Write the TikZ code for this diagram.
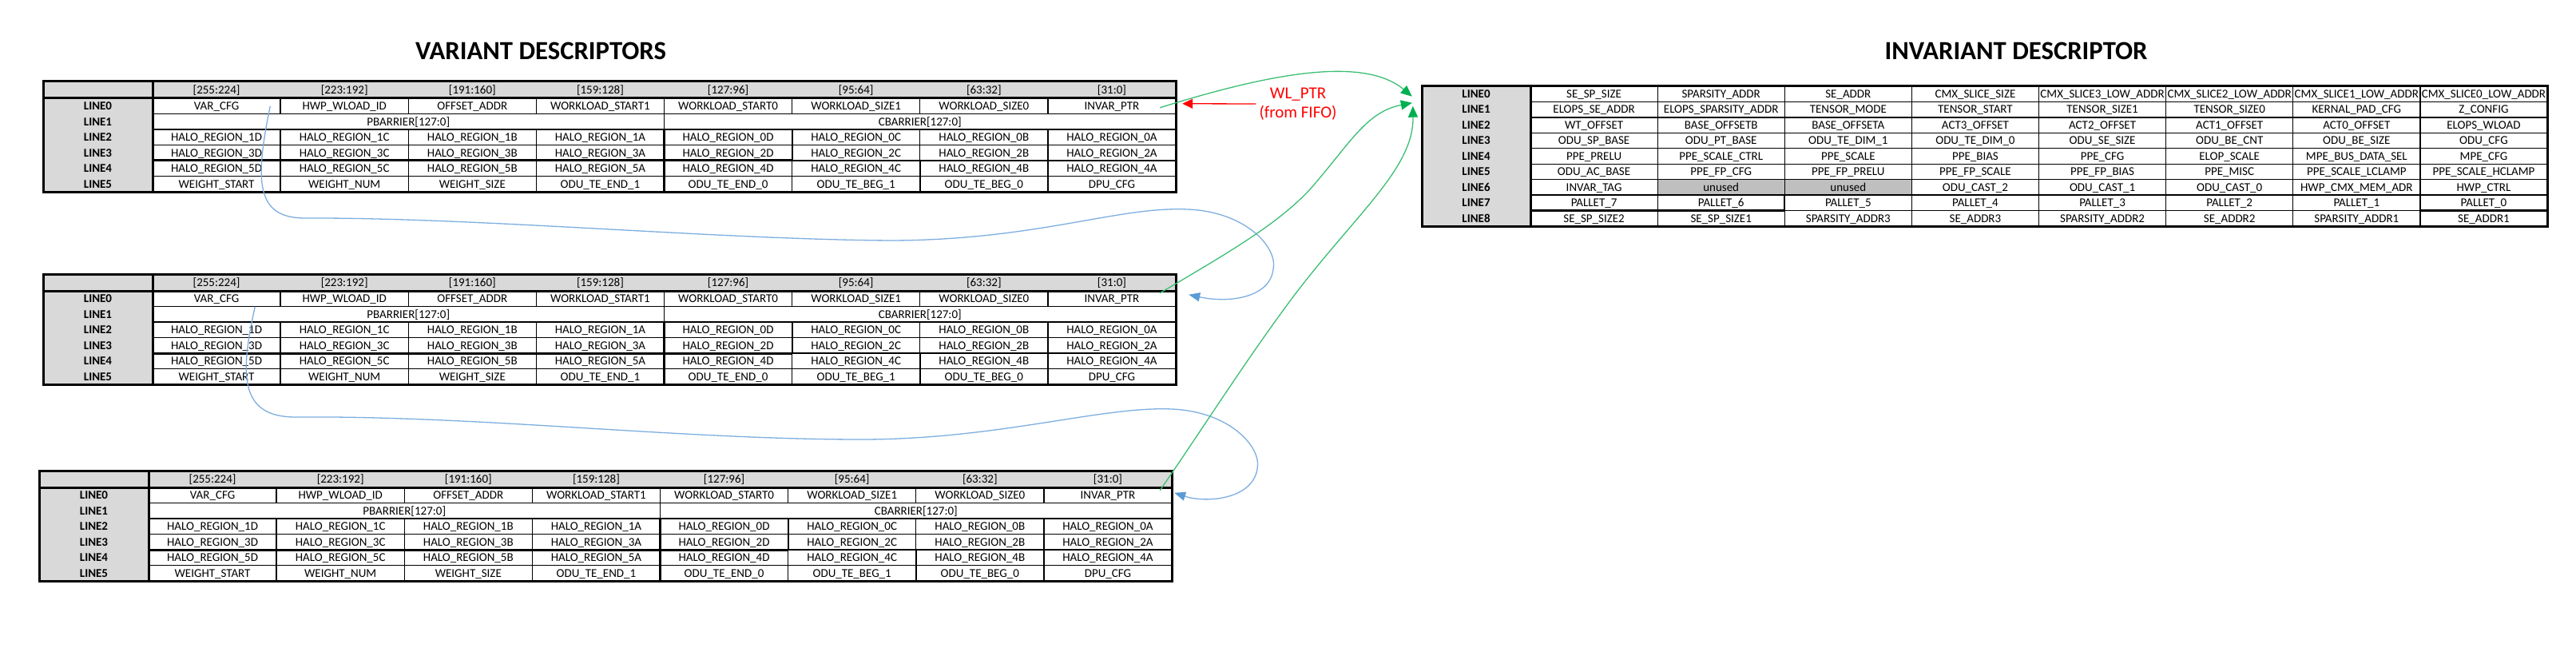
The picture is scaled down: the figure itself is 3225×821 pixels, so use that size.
\documentclass[tikz,border=0pt]{standalone}
\usepackage{fontspec}
\setmainfont{Carlito}
\usetikzlibrary{arrows.meta,calc}
\definecolor{hdrgray}{HTML}{D9D9D9}
\definecolor{unusedgray}{HTML}{BFBFBF}
\definecolor{xlgreen}{HTML}{00B050}
\definecolor{xlgreenline}{HTML}{3CBE74}
\definecolor{xlblue}{HTML}{5B9BD5}
\definecolor{xlblueline}{HTML}{7DAEE0}
\definecolor{xlred}{HTML}{FF0000}
\tikzset{
  thinb/.style={line width=1.3pt, draw=black},
  medb/.style={line width=2.2pt, draw=black},
  thickb/.style={line width=3pt, draw=black},
  cell/.style={inner sep=0pt, minimum height=19.5pt, text height=9.66pt, text depth=0pt,
    font=\fontsize{15}{15}\selectfont, anchor=center},
  lab/.style={cell, font=\fontsize{15}{15}\selectfont\bfseries},
  titletext/.style={font=\fontsize{32.7}{36}\selectfont\bfseries, anchor=base, inner sep=0pt},
  wltext/.style={font=\fontsize{21}{23.5}\selectfont, text=xlred, align=center, inner sep=4pt},
  bluelink/.style={draw=xlblueline, line width=1.3pt, -{Triangle[length=14pt,width=11pt,color=xlblue]}},
  greenlink/.style={draw=xlgreenline, line width=1.3pt, -{Triangle[length=14pt,width=12pt,color=xlgreen]}},
  redlink/.style={draw=xlred, line width=1.3pt, -{Triangle[length=13pt,width=12pt]}},
}
\newcommand\vartable[3]{%
\begin{scope}[shift={(#2,#3)}]
\fill[hdrgray] (0,0) rectangle (1418,21);
\fill[hdrgray] (0,21) rectangle (137,138);
\foreach \r in {1,...,5} {\draw[thinb] (137,21+19.5*\r) -- (1418,21+19.5*\r);}
\foreach \c in {1,...,7} {\draw[thinb] (137+160.125*\c,21) -- (137+160.125*\c,40.5);
  \draw[thinb] (137+160.125*\c,60) -- (137+160.125*\c,138);}
\draw[thinb] (777.5,40.5) -- (777.5,60);
\draw[medb] (777.5,60) -- (777.5,138);
\draw[medb] (937.625,60) -- (937.625,99);
\draw[medb] (1097.75,99) -- (1097.75,138);
\draw[thickb] (137,99) -- (937.625,99);
\draw[thickb] (0,21) -- (1418,21);
\draw[thickb] (137,0) -- (137,138);
\draw[thickb] (0,0) rectangle (1418,138);
\foreach \txt [count=\c] in {{[255:224]},{[223:192]},{[191:160]},{[159:128]},{[127:96]},{[95:64]},{[63:32]},{[31:0]}}
  {\node[cell,minimum width=160.125pt,minimum height=21pt] (#1-h-\c) at (56.9375+160.125*\c,10.5) {\txt};}
\foreach \r in {0,...,5} {\node[lab,minimum width=137pt] (#1-\r-0) at (68.5,30.75+19.5*\r) {LINE\r};}
\foreach \txt [count=\c] in {VAR\_CFG,HWP\_WLOAD\_ID,OFFSET\_ADDR,WORKLOAD\_START1,WORKLOAD\_START0,WORKLOAD\_SIZE1,WORKLOAD\_SIZE0,INVAR\_PTR}
  {\node[cell,minimum width=160.125pt] (#1-0-\c) at (56.9375+160.125*\c,30.75) {\txt};}
\node[cell,minimum width=640.5pt] (#1-1-1) at (457.25,50.25) {PBARRIER[127:0]};
\node[cell,minimum width=640.5pt] (#1-1-2) at (1097.75,50.25) {CBARRIER[127:0]};
\foreach \txt [count=\c] in {1D,1C,1B,1A,0D,0C,0B,0A}
  {\node[cell,minimum width=160.125pt] (#1-2-\c) at (56.9375+160.125*\c,69.75) {HALO\_REGION\_\txt};}
\foreach \txt [count=\c] in {3D,3C,3B,3A,2D,2C,2B,2A}
  {\node[cell,minimum width=160.125pt] (#1-3-\c) at (56.9375+160.125*\c,89.25) {HALO\_REGION\_\txt};}
\foreach \txt [count=\c] in {5D,5C,5B,5A,4D,4C,4B,4A}
  {\node[cell,minimum width=160.125pt] (#1-4-\c) at (56.9375+160.125*\c,108.75) {HALO\_REGION\_\txt};}
\foreach \txt [count=\c] in {WEIGHT\_START,WEIGHT\_NUM,WEIGHT\_SIZE,ODU\_TE\_END\_1,ODU\_TE\_END\_0,ODU\_TE\_BEG\_1,ODU\_TE\_BEG\_0,DPU\_CFG}
  {\node[cell,minimum width=160.125pt] (#1-5-\c) at (56.9375+160.125*\c,128.25) {\txt};}
\end{scope}}
\begin{document}
\begin{tikzpicture}[x=1pt,y=-1pt]
\useasboundingbox (0,0) rectangle (3225,821);
\fill[white] (0,0) rectangle (3225,821);
% titles
\node[titletext] (vtitle) at (677,75) {VARIANT DESCRIPTORS};
\node[titletext] (ititle) at (2524,75) {INVARIANT DESCRIPTOR};
% variant tables
\vartable{v1}{54}{102}
\vartable{v2}{54}{343}
\vartable{v3}{49}{589}
% invariant table
\begin{scope}[shift={(1780,108)}]
\fill[hdrgray] (0,0) rectangle (136,175);
\fill[unusedgray] (295.125,116.64) rectangle (613.375,136.08);
\foreach \r in {1,...,8} {\draw[thinb] (136,19.44*\r) -- (1409,19.44*\r);}
\foreach \c in {1,...,7} {\draw[thinb] (136+159.125*\c,0) -- (136+159.125*\c,175);}
\draw[medb] (136,136.08) -- (454.25,136.08);
\draw[medb] (136,155.52) -- (454.25,155.52);
\draw[medb] (454.25,136.08) -- (454.25,155.52);
\draw[medb] (1249.875,155.52) -- (1409,155.52);
\draw[medb] (1249.875,155.52) -- (1249.875,175);
\draw[thickb] (136,0) -- (136,175);
\draw[thickb] (0,0) rectangle (1409,175);
\foreach \r in {0,...,8} {\node[lab,minimum width=136pt,minimum height=19.44pt] (i-\r-0) at (68,9.72+19.44*\r) {LINE\r};}
\foreach \row [count=\r from 0] in {
  {SE\_SP\_SIZE,SPARSITY\_ADDR,SE\_ADDR,CMX\_SLICE\_SIZE,CMX\_SLICE3\_LOW\_ADDR,CMX\_SLICE2\_LOW\_ADDR,CMX\_SLICE1\_LOW\_ADDR,CMX\_SLICE0\_LOW\_ADDR},
  {ELOPS\_SE\_ADDR,ELOPS\_SPARSITY\_ADDR,TENSOR\_MODE,TENSOR\_START,TENSOR\_SIZE1,TENSOR\_SIZE0,KERNAL\_PAD\_CFG,Z\_CONFIG},
  {WT\_OFFSET,BASE\_OFFSETB,BASE\_OFFSETA,ACT3\_OFFSET,ACT2\_OFFSET,ACT1\_OFFSET,ACT0\_OFFSET,ELOPS\_WLOAD},
  {ODU\_SP\_BASE,ODU\_PT\_BASE,ODU\_TE\_DIM\_1,ODU\_TE\_DIM\_0,ODU\_SE\_SIZE,ODU\_BE\_CNT,ODU\_BE\_SIZE,ODU\_CFG},
  {PPE\_PRELU,PPE\_SCALE\_CTRL,PPE\_SCALE,PPE\_BIAS,PPE\_CFG,ELOP\_SCALE,MPE\_BUS\_DATA\_SEL,MPE\_CFG},
  {ODU\_AC\_BASE,PPE\_FP\_CFG,PPE\_FP\_PRELU,PPE\_FP\_SCALE,PPE\_FP\_BIAS,PPE\_MISC,PPE\_SCALE\_LCLAMP,PPE\_SCALE\_HCLAMP},
  {INVAR\_TAG,unused,unused,ODU\_CAST\_2,ODU\_CAST\_1,ODU\_CAST\_0,HWP\_CMX\_MEM\_ADR,HWP\_CTRL},
  {PALLET\_7,PALLET\_6,PALLET\_5,PALLET\_4,PALLET\_3,PALLET\_2,PALLET\_1,PALLET\_0},
  {SE\_SP\_SIZE2,SE\_SP\_SIZE1,SPARSITY\_ADDR3,SE\_ADDR3,SPARSITY\_ADDR2,SE\_ADDR2,SPARSITY\_ADDR1,SE\_ADDR1}}
  {\foreach \txt [count=\c] in \row
    {\node[cell,minimum width=159.125pt,minimum height=19.44pt] (i-\r-\c) at (56.4375+159.125*\c,9.72+19.44*\r) {\txt};}}
\end{scope}
% WL_PTR label and red arrow
\node[wltext] (wl) at (1625,130) {WL\_PTR\\(from FIFO)};
\draw[redlink] (wl.west) -- ($(v1-0-8.east)+(8,-3)$);
% blue links (variant chain)
\draw[bluelink] ($(v1-0-1.east)+(-13,0)$)
  .. controls (318,230) and (322,272) .. (380,273)
  .. controls (600,272) and (900,300) .. (1118,301)
  .. controls (1300,300) and (1400,258) .. (1487,262)
  .. controls (1560,265) and (1600,310) .. (1594,337)
  .. controls (1590,372) and (1540,380) .. ($(v2-0-8.east)+(16,-5)$);
\draw[bluelink] ($(v2-0-1.south east)+(-32,0)$)
  .. controls (300,470) and (300,522) .. (370,522)
  .. controls (600,520) and (850,550) .. (1078,550)
  .. controls (1250,550) and (1380,508) .. (1467,512)
  .. controls (1540,515) and (1580,560) .. (1574,587)
  .. controls (1568,625) and (1510,630) .. ($(v3-0-8.east)+(3,-3)$);
% green links to invariant descriptor
\draw[greenlink] ($(v1-0-8.east)+(-20,2)$)
  .. controls (1580,95) and (1705,68) .. ($(i-0-0.west)+(-12,3)$);
\draw[greenlink] ($(v2-0-8.east)+(-20,-7)$)
  .. controls (1540,315) and (1600,280) .. (1640,237)
  .. controls (1690,180) and (1710,140) .. ($(i-0-0.west)+(-12,11)$);
\draw[greenlink] ($(v3-0-8.east)+(-15,-6)$)
  .. controls (1500,545) and (1560,450) .. (1620,370)
  .. controls (1700,265) and (1770,210) .. ($(i-0-0.west)+(-11,15)$);
\end{tikzpicture}
\end{document}
